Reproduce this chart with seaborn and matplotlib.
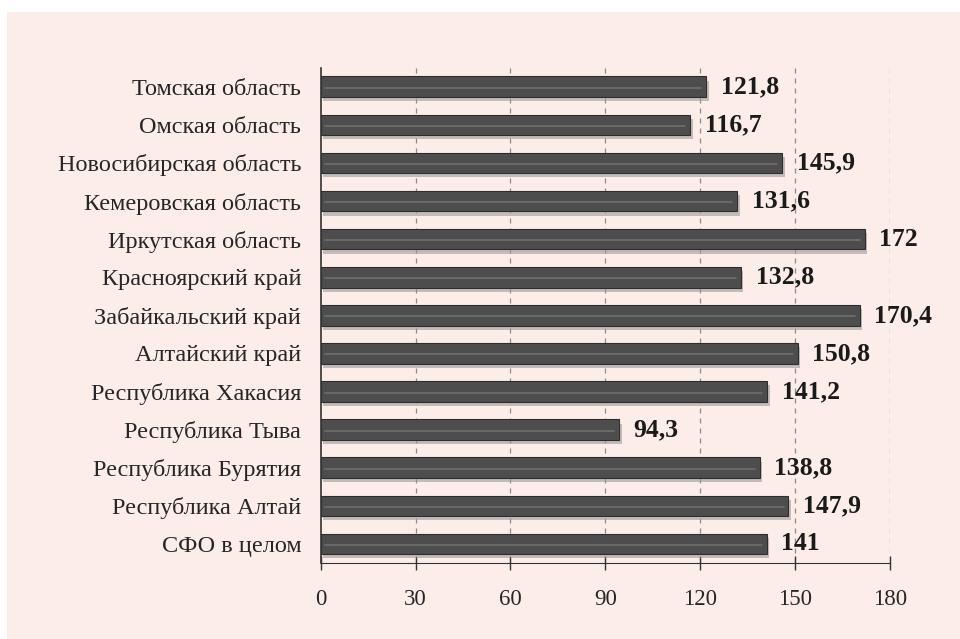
import numpy as np
import pandas as pd
import matplotlib
matplotlib.use("Agg")
import matplotlib.pyplot as plt
import matplotlib.patheffects as pe
from matplotlib.patches import Rectangle
import seaborn as sns

regions = [
    "Томская область", "Омская область", "Новосибирская область",
    "Кемеровская область", "Иркутская область", "Красноярский край",
    "Забайкальский край", "Алтайский край", "Республика Хакасия",
    "Республика Тыва", "Республика Бурятия", "Республика Алтай",
    "СФО в целом",
]
values = [121.8, 116.7, 145.9, 131.6, 172, 132.8, 170.4, 150.8, 141.2,
          94.3, 138.8, 147.9, 141]
value_labels = ["121,8", "116,7", "145,9", "131,6", "172", "132,8", "170,4",
                "150,8", "141,2", "94,3", "138,8", "147,9", "141"]
xticks = [0, 30, 60, 90, 120, 150, 180]

df = pd.DataFrame({"region": regions, "value": values})

sns.set_style("white")
plt.rcParams['font.family'] = ['Liberation Serif', 'DejaVu Serif']

bg = "#fcede9"
fig = plt.figure(figsize=(9.6, 6.39), dpi=100)
fig.patches.append(Rectangle((7 / 960, 0), 1, 1 - 12 / 639, transform=fig.transFigure,
                             facecolor=bg, edgecolor="none", zorder=-10))
ax = fig.add_axes([0.334, 0.119, 0.593, 0.775])
ax.set_facecolor(bg)
ax.patch.set_alpha(0)

sns.barplot(data=df, x="value", y="region", ax=ax, color="#4d4d4d",
            width=0.54, edgecolor="#2e2e2e", linewidth=0.8, saturation=1)

for bar in ax.patches:
    bar.set_path_effects([pe.SimplePatchShadow(offset=(2, -3), shadow_rgbFace="#9a9a9a", alpha=0.6),
                          pe.Normal()])
    # thin highlight strip along the bar
    y0 = bar.get_y() + bar.get_height() * 0.55
    ax.plot([1.5, bar.get_width() - 1.5], [y0, y0], color="#6e6e6e", lw=1.2, zorder=3)

for i, (v, lab) in enumerate(zip(values, value_labels)):
    ax.text(v + 4.7, i, lab, va="center", ha="left", fontsize=18.5,
            fontweight="bold", color="#1a1a1a")

ax.set_xlim(0, 180)
ax.set_ylim(12.5, -0.5)
ax.set_xticks(xticks)
ax.set_xticklabels([str(t) for t in xticks], fontsize=16.5)
ax.tick_params(axis="x", bottom=True, direction="inout", length=10, width=1,
               color="#333333", pad=14)
ax.tick_params(axis="y", left=False, length=0, pad=14, labelsize=17.5)
ax.set_xlabel("")
ax.set_ylabel("")
for t in xticks[1:]:
    ax.axvline(t, color="#8a8a8a", ls=(0, (4, 4)), lw=0.9, zorder=0)

sns.despine(ax=ax, top=True, right=True)
ax.spines["left"].set_color("#333333")
ax.spines["bottom"].set_color("#333333")
ax.spines["left"].set_linewidth(1.2)

fig.savefig("out.png", dpi=100)
